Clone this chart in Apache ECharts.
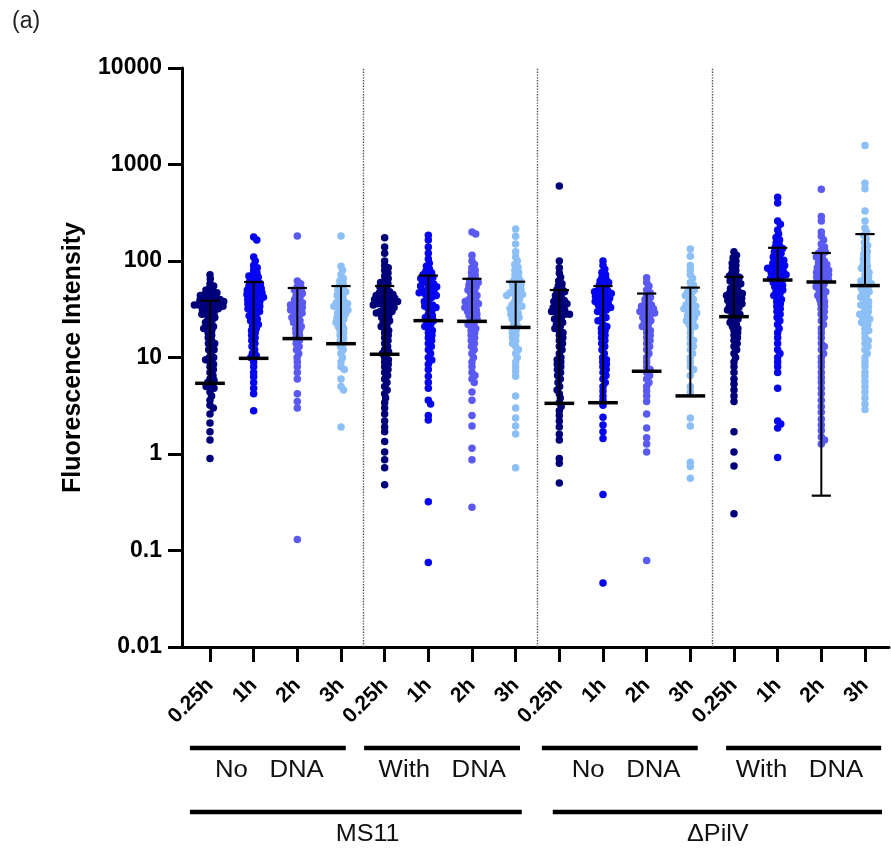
<!DOCTYPE html>
<html><head><meta charset="utf-8">
<script src="https://cdn.jsdelivr.net/npm/echarts@6/dist/echarts.min.js"></script>
<style>html,body{margin:0;padding:0;background:#fff}#c{width:891px;height:849px}</style>
</head><body><div id="c"></div>
<script>
// ---------- DATA ----------
const categories = ['0.25h','1h','2h','3h','0.25h','1h','2h','3h','0.25h','1h','2h','3h','0.25h','1h','2h','3h'];
const conditionLabels = ['No   DNA','With   DNA','No   DNA','With   DNA'];
const strainLabels = ['MS11','ΔPilV'];
const yTickLabels = ['0.01','0.1','1','10','100','1000','10000'];
const timeColors = ['#00007a','#0505f0','#5a5af2','#8cbff5'];

// MS11, No DNA
const ms11NoDna025 = [72,65,58,55,52,50,48,47,46,45,44,43,42,41,40,40,39,38,38,37,37,36,36,35,35,34,34,33,33,32,31,30,29,28,28,27,26,25,24,23,22,21,20,20,19,18,17,16,15,14,14,13,12,12,11,10,10,9.5,9,8.5,8,7.5,7,6.5,6,5.8,5.5,5.2,5,4.8,4.4,4,3.6,3.2,3.0,2.6,2.1,1.7,1.4,0.9];
const ms11NoDna1 = [177,165,110,100,90,85,80,75,72,70,68,65,62,60,58,56,55,54,52,50,50,48,47,46,45,44,43,42,41,40,39,38,37,36,35,34,33,32,31,30,29,28,27,26,25,24,23,22,21,20,19,18,17,16,15,14,13,12,11,10.5,10,9,8,7,6.3,5.5,4.8,4.2,2.8];
const ms11NoDna2 = [182,62,58,54,52,50,48,46,44,42,40,38,37,36,35,34,33,32,31,30,29,28,27,26,25,24,23,22,21,20,19,18,17,16,15,14,13,12,11,10,9,8,7,6,4.2,3.5,3,0.13];
const ms11NoDna3 = [182,88,80,72,66,62,58,55,52,50,48,46,44,42,40,38,37,36,35,34,33,32,31,30,29,28,27,26,25,24,23,22,21,20,19,18,17,16,15,14,13,12,11,10,9,8,7.5,6,5,4.6,1.9];
// MS11, With DNA
const ms11Dna025 = [174,140,120,100,90,85,80,75,70,66,62,60,58,56,54,52,50,48,47,46,45,44,43,42,41,40,40,39,38,38,37,36,36,35,35,34,33,32,31,30,30,29,28,27,26,25,24,23,22,21,20,19,18,17,16,15,14,13,12,11.5,11,10,9.5,9,8.5,8,7.5,7,6.5,6,5.5,5,4.6,4.2,3.8,3.4,3.0,2.6,2.2,1.9,1.7,1.35,1.05,0.87,0.72,0.48];
const ms11Dna1 = [185,165,140,120,105,95,88,82,78,75,72,70,68,66,64,62,60,58,56,55,54,52,50,49,48,47,46,45,44,42,40,38,36,35,34,33,32,30,28,27,26,25,24,23,22,21,20,19,18,17,16,15,14,13,12,11,10,9.4,8.5,7.5,6.4,5.5,4.8,3.6,3.3,2.5,2.25,0.32,0.075];
const ms11Dna2 = [200,190,115,100,92,85,80,76,72,68,65,62,60,58,56,54,52,50,48,46,44,42,40,39,38,37,36,35,34,33,32,31,30,29,28,27,26,25,24,23,22,21,20,19,18,17,16,15,14,13,12,11,10,9,8,7,6.5,6,5.5,4.4,3.6,2.5,1.95,1.15,0.87,0.28];
const ms11Dna3 = [214,180,150,125,110,100,92,86,80,76,72,68,65,62,60,58,56,54,52,50,48,47,46,45,44,42,40,38,36,35,34,33,32,30,29,28,27,26,25,24,22,21,20,19,18,17,16,15,14,13,12,11,10,9,8,7.2,6.4,4.0,3.0,2.36,1.95,1.61,0.72];
// ΔPilV, No DNA
const pilvNoDna025 = [600,100,85,75,68,62,58,55,52,50,48,46,44,42,40,39,38,37,36,35,34,33,32,31,30,30,29,28,28,27,26,25,24,23,22,21,20,19,18,17,16,15,14,13,12,11,10,9.5,9,8.5,8,7.5,7,6.5,6,5.5,5,4.6,4.2,3.8,3.4,3.1,2.8,2.5,2.2,1.9,1.6,1.4,0.9,0.8,0.5];
const pilvNoDna1 = [100,90,82,76,72,68,65,62,60,58,56,54,52,50,49,48,47,46,45,44,43,42,41,40,39,38,37,36,35,34,33,32,31,30,28,26,25,24,22,21,20,19,18,17,16,15,14,13,12,11,10,9.5,9,8.5,8,7.5,7,6.5,6,5.5,5,4.5,4.0,3.6,3.2,2.4,2.0,1.7,1.45,0.38,0.046];
const pilvNoDna2 = [67,60,55,50,47,44,42,40,38,36,35,34,33,32,31,30,30,29,28,27,26,25,24,23,22,21,20,19,18,17,16,15,14,13,12,11,10,9,8,7.5,7,6.5,6,5.5,5,4.5,4,3.5,2.6,1.86,1.47,1.27,1.05,0.079];
const pilvNoDna3 = [133,112,90,80,72,66,60,56,52,50,48,46,44,42,40,38,36,35,34,33,32,31,30,29,28,27,26,25,24,23,22,21,20,18,16,15,14,13,12,11,10,9,8,7.5,6.5,5,4.4,2.36,1.95,0.82,0.74,0.56];
// ΔPilV, With DNA
const pilvDna025 = [125,115,108,100,95,90,85,80,76,72,70,68,65,62,60,58,56,54,52,50,48,47,46,45,44,43,42,41,40,39,38,37,36,35,34,33,32,31,30,29,28,27,26,25,24,23,22,21,20,19,18,17,16,15,14,13,12,11,10,9,8,7,6,5.3,4.6,4.0,3.5,1.7,1.05,0.75,0.24];
const pilvDna1 = [458,400,260,240,210,190,175,165,155,145,140,135,130,125,120,115,110,106,102,98,95,92,90,88,86,84,82,80,78,76,74,72,70,68,66,64,62,60,58,56,54,52,50,48,46,44,42,40,38,36,34,32,30,28,26,24,22,20,18,16,14,12,11,10,9,8,7,4.8,2.2,2.05,1.86,0.92];
const pilvDna2 = [553,290,260,200,180,165,150,140,130,125,120,115,110,105,100,96,92,88,85,82,80,78,76,74,72,70,68,66,64,62,60,58,56,54,52,50,48,46,44,42,40,38,36,34,32,30,28,26,24,22,20,18,16,14,13,12,11,10,9,8,7,6.2,5.5,4.8,4.2,3.6,3.1,2.7,2.3,2.0,1.75,1.5,1.4,1.27];
const pilvDna3 = [1574,640,560,330,260,220,200,185,170,155,145,135,125,118,110,104,98,92,88,84,80,76,72,68,65,62,60,58,56,54,52,50,48,46,44,42,40,38,36,35,34,32,30,29,28,27,26,25,24,23,22,20,19,18,16,15,14,13,12,11,10,9,8,7,6.3,5.6,5,4.4,3.8,3.3,2.9];

const pointSets = [ms11NoDna025,ms11NoDna1,ms11NoDna2,ms11NoDna3,ms11Dna025,ms11Dna1,ms11Dna2,ms11Dna3,
                   pilvNoDna025,pilvNoDna1,pilvNoDna2,pilvNoDna3,pilvDna025,pilvDna1,pilvDna2,pilvDna3];

// summary bars (wide bar, upper whisker cap, lower whisker cap)
const centerValues = [5.4,9.8,15.7,13.9,10.8,24.1,23.7,20.5,3.35,3.4,7.2,4.0,26.5,63.5,60.6,55.6];
const upperValues  = [38.8,60.6,52.5,55,55,70.6,65.4,61,50,55,46,53,68.6,137,121,190];
const lowerValues  = [null,null,null,null,null,null,null,null,null,null,null,null,null,null,0.37,null];

// ---------- LAYOUT ----------
const FONT = 'Liberation Sans, Arial, sans-serif';
const groupBarSpans = [[-0.46,3.11],[3.53,7.1],[7.6,11.17],[11.82,15.37]];
const groupTextPos = [1.36,5.32,9.53,13.5];
const strainBarSpans = [[-0.46,7.14],[7.85,15.39]];
const strainTextPos = [3.61,11.63];
const tickIdx = categories.map((c,i)=>i);

const chart = echarts.init(document.getElementById('c'), null, {renderer:'canvas'});

function scatterSeries(dataFn){
  return pointSets.map((vals,i)=>({
    type:'scatter', silent:true, z:2,
    symbol:'circle', symbolSize:7.5,
    itemStyle:{color:timeColors[i%4], opacity:1},
    data: dataFn(vals,i),
    markLine: i===0 ? {
      silent:true, symbol:'none', label:{show:false},
      lineStyle:{type:'dotted', color:'#555', width:1.4},
      data:[{xAxis:3.5},{xAxis:7.5},{xAxis:11.5}]
    } : undefined
  }));
}

const errorSeries = {
  type:'custom', z:10, silent:true,
  data: centerValues.map((c,i)=>[i,c,upperValues[i]]),
  encode:{x:0,y:[1,2]},
  renderItem:(params, api)=>{
    const k = params.dataIndex;
    const x = api.value(0);
    const pc = api.coord([x, api.value(1)]);
    const pu = api.coord([x, api.value(2)]);
    const lo = lowerValues[k];
    const pl = lo == null ? pc : api.coord([x, lo]);
    const unit = api.coord([x+1, api.value(1)])[0] - pc[0];
    const capW = unit*0.22, barW = unit*0.34;
    const st = {stroke:'#000', lineWidth:2};
    const ch = [
      {type:'line', shape:{x1:pc[0],y1:pl[1],x2:pc[0],y2:pu[1]}, style:st},
      {type:'line', shape:{x1:pc[0]-capW,y1:pu[1],x2:pc[0]+capW,y2:pu[1]}, style:{stroke:'#000',lineWidth:2.2}},
      {type:'line', shape:{x1:pc[0]-barW,y1:pc[1],x2:pc[0]+barW,y2:pc[1]}, style:{stroke:'#000',lineWidth:3.5}}
    ];
    if (lo != null) ch.push({type:'line', shape:{x1:pc[0]-capW,y1:pl[1],x2:pc[0]+capW,y2:pl[1]}, style:{stroke:'#000',lineWidth:2.2}});
    return {type:'group', children:ch};
  }
};

const option = {
  animation:false,
  backgroundColor:'#fff',
  title:{text:'(a)', left:7, top:5, textStyle:{fontSize:23, fontWeight:'normal', color:'#222', fontFamily:FONT}},
  grid:{left:182, right:2, top:68, bottom:202},
  xAxis:{
    type:'value', min:-0.641, max:15.55,
    splitLine:{show:false},
    axisLine:{show:true, onZero:false, lineStyle:{color:'#000', width:3}},
    axisTick:{show:true, length:15, lineStyle:{color:'#000', width:3}, customValues:tickIdx},
    axisLabel:{customValues:tickIdx, rotate:45, margin:35, fontSize:21, fontWeight:'bold', color:'#000', fontFamily:FONT,
      formatter:(v)=>categories[Math.round(v)]}
  },
  yAxis:{
    type:'log', logBase:10, min:0.01, max:10000,
    name:'Fluorescence Intensity', nameLocation:'middle', nameGap:96,
    nameTextStyle:{fontSize:25, fontWeight:'bold', color:'#000', fontFamily:FONT},
    splitLine:{show:false}, minorTick:{show:false},
    axisLine:{show:true, onZero:false, lineStyle:{color:'#000', width:3}},
    axisTick:{show:true, length:14, lineStyle:{color:'#000', width:3}},
    axisLabel:{margin:20, fontSize:23, fontWeight:'bold', color:'#000', fontFamily:FONT,
      formatter:(v)=>yTickLabels[Math.round(Math.log10(v))+2]}
  },
  series: scatterSeries((vals,i)=>vals.map(v=>[i,v])).concat([errorSeries])
};
chart.setOption(option);

// beeswarm layout (offsets from overlap of marker circles, in pixels -> axis units)
function swarm(ys, d){
  const order = ys.map((y,i)=>i).sort((a,b)=>ys[a]-ys[b]);
  const placed = []; const out = new Array(ys.length);
  for (const i of order){
    const y = ys[i];
    const near = placed.filter(p=>Math.abs(p.y-y) < d);
    const cands = [0];
    for (const p of near){ const dx = Math.sqrt(d*d-(p.y-y)*(p.y-y)); cands.push(p.x+dx, p.x-dx); }
    cands.sort((a,b)=>Math.abs(a)-Math.abs(b));
    let x = 0;
    for (const c of cands){ if (near.every(p=>(p.x-c)*(p.x-c)+(p.y-y)*(p.y-y) >= d*d-0.01)){ x=c; break; } }
    placed.push({x,y}); out[i]=x;
  }
  return out;
}
const px0 = chart.convertToPixel({gridIndex:0},[0,1])[0];
const px1 = chart.convertToPixel({gridIndex:0},[1,1])[0];
const unitPx = px1-px0;
chart.setOption({series: scatterSeries((vals,i)=>{
  const ys = vals.map(v=>chart.convertToPixel({gridIndex:0},[i,v])[1]);
  const offs = swarm(ys, 4.3);
  return vals.map((v,j)=>[i+offs[j]/unitPx, v]);
}).concat([errorSeries])});

// group / strain annotations under the axis
const xp = (u)=>chart.convertToPixel({gridIndex:0},[u,1])[0];
const gfx = [];
groupBarSpans.forEach((s,k)=>{
  gfx.push({type:'line', shape:{x1:xp(s[0]),y1:748,x2:xp(s[1]),y2:748}, style:{stroke:'#000',lineWidth:4.5}});
  gfx.push({type:'text', x:xp(groupTextPos[k]), y:771, scaleX:1.12,
    style:{text:conditionLabels[k], x:0, y:0, align:'center', verticalAlign:'middle', fontSize:23, fontFamily:FONT, fill:'#111'}});
});
strainBarSpans.forEach((s,k)=>{
  gfx.push({type:'line', shape:{x1:xp(s[0]),y1:812,x2:xp(s[1]),y2:812}, style:{stroke:'#000',lineWidth:4.5}});
  gfx.push({type:'text', x:xp(strainTextPos[k]), y:834, scaleX:1.05,
    style:{text:strainLabels[k], x:0, y:0, align:'center', verticalAlign:'middle', fontSize:24, fontFamily:FONT, fill:'#111'}});
});
chart.setOption({graphic:gfx});
</script></body></html>
